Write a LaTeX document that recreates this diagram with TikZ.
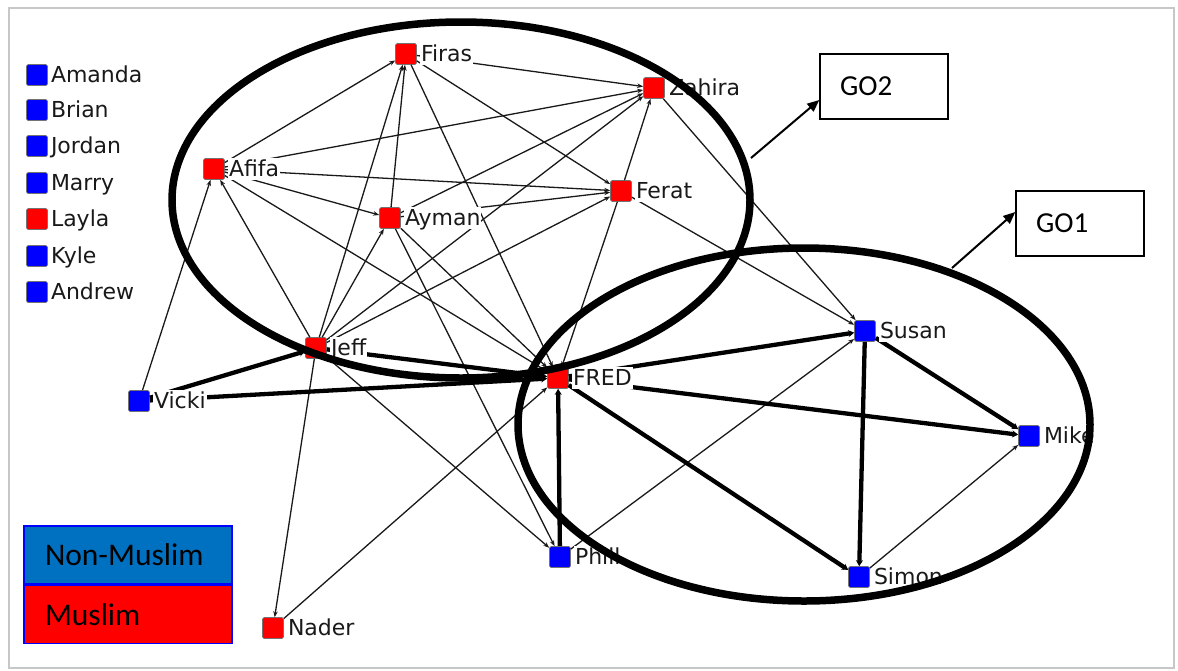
\documentclass[tikz,border=0pt]{standalone}
\usepackage{fontspec}
\setmainfont{DejaVu Sans}
\newfontfamily\gofont{Carlito}
\usepackage{xcolor}
\usetikzlibrary{positioning,arrows.meta}
\definecolor{vred}{HTML}{FF0000}
\definecolor{vblue}{HTML}{0000FF}
\definecolor{nmblue}{HTML}{0070C0}

\begin{document}
\begin{tikzpicture}[x=1pt,y=-1pt]
      \useasboundingbox(0,0) rectangle (1178,670);
      \tikzset{V/.style = {shape=rectangle, rounded corners=1.5pt, draw=black!55, line width=0.6pt, minimum size=21pt, inner sep=0pt}}
      \tikzset{L/.style = {fill=white, inner sep=1pt, text=black!90, font=\fontsize{22}{24}\selectfont, text height=17pt, text depth=3pt}}
      \tikzset{E/.style = {draw, black!90, line width=1.3pt, -{Stealth[length=6pt,width=4.5pt]}}}
      \tikzset{T/.style = {draw, black, line width=4.3pt, -{Stealth[length=6pt,width=7pt]}}}
      \tikzset{G/.style = {draw, line width=7.5pt}}
      \tikzset{gobox/.style = {draw, line width=1.4pt, minimum width=128pt, minimum height=65pt, text width=88pt, inner xsep=20pt, align=left, font=\gofont\fontsize{29}{32}\selectfont}}
      \tikzset{GA/.style = {draw, line width=2pt, -{Triangle[length=12pt,width=10pt]}}}
      \tikzset{legbox/.style = {draw=vblue, line width=1.2pt, minimum width=208pt, minimum height=58pt, text width=166pt, inner xsep=21pt, align=left, font=\gofont\fontsize{31.5}{34}\selectfont}}
      \draw[black!22, line width=1.5pt](9,8) rectangle (1174,668);
      % isolates
      \node[V,fill=vblue](amanda) at (37,75) {};
      \node[V,fill=vblue](brian) at (37,110) {};
      \node[V,fill=vblue](jordan) at (37,146) {};
      \node[V,fill=vblue](marry) at (37,183) {};
      \node[V,fill=vred](layla) at (37,219) {};
      \node[V,fill=vblue](kyle) at (37,256) {};
      \node[V,fill=vblue](andrew) at (37,292) {};
      % network
      \node[V,fill=vred](firas) at (406,54) {};
      \node[V,fill=vred](zahira) at (654,88) {};
      \node[V,fill=vred](afifa) at (214,169) {};
      \node[V,fill=vred](ferat) at (621,191) {};
      \node[V,fill=vred](ayman) at (390,218) {};
      \node[V,fill=vred](jeff) at (316,348) {};
      \node[V,fill=vred](fred) at (558,378) {};
      \node[V,fill=vblue](vicki) at (139,401) {};
      \node[V,fill=vblue](susan) at (865,331) {};
      \node[V,fill=vblue](mike) at (1029,436) {};
      \node[V,fill=vblue](phill) at (560,557) {};
      \node[V,fill=vblue](simon) at (859,577) {};
      \node[V,fill=vred](nader) at (273,628) {};
      \draw[E](vicki) to (afifa);
      \draw[E](jeff) to (afifa);
      \draw[E](afifa) to (firas);
      \draw[E](afifa) to (zahira);
      \draw[E](afifa) to (ferat);
      \draw[E](afifa) to (ayman);
      \draw[E](afifa) to (fred);
      \draw[E](jeff) to (firas);
      \draw[E](ayman) to (firas);
      \draw[E](jeff) to (ayman);
      \draw[E](jeff) to (zahira);
      \draw[E](jeff) to (ferat);
      \draw[E](jeff) to (nader);
      \draw[E](jeff) to (phill);
      \draw[E](ayman) to (zahira);
      \draw[E](ayman) to (ferat);
      \draw[E](ayman) to (fred);
      \draw[E](ayman) to (phill);
      \draw[E](firas) to (zahira);
      \draw[E](firas) to (ferat);
      \draw[E](firas) to (fred);
      \draw[E](ferat) to (zahira);
      \draw[E](ferat) to (fred);
      \draw[E](ferat) to (susan);
      \draw[E](zahira) to (susan);
      \draw[E](nader) to (fred);
      \draw[E](phill) to (susan);
      \draw[E](simon) to (mike);
      \draw[T](vicki) to (jeff);
      \draw[T](vicki) to (fred);
      \draw[T](jeff) to (fred);
      \draw[T](fred) to (susan);
      \draw[T](fred) to (mike);
      \draw[T](fred) to (simon);
      \draw[T](phill) to (fred);
      \draw[T](susan) to (simon);
      \draw[T](susan) to (mike);
      % names
      \node[L,right=2pt of amanda](amandal){Amanda};
      \node[L,right=2pt of brian](brianl){Brian};
      \node[L,right=2pt of jordan](jordanl){Jordan};
      \node[L,right=2pt of marry](marryl){Marry};
      \node[L,right=2pt of layla](laylal){Layla};
      \node[L,right=2pt of kyle](kylel){Kyle};
      \node[L,right=2pt of andrew](andrewl){Andrew};
      \node[L,right=3pt of firas](firasl){Firas};
      \node[L,right=3pt of zahira](zahiral){Zahira};
      \node[L,right=3pt of afifa](afifal){Afifa};
      \node[L,right=3pt of ferat](feratl){Ferat};
      \node[L,right=3pt of ayman](aymanl){Ayman};
      \node[L,right=3pt of jeff](jeffl){Jeff};
      \node[L,right=3pt of fred](fredl){FRED};
      \node[L,right=3pt of vicki](vickil){Vicki};
      \node[L,right=3pt of susan](susanl){Susan};
      \node[L,right=3pt of mike](mikel){Mike};
      \node[L,right=3pt of phill](philll){Phill};
      \node[L,right=3pt of simon](simonl){Simon};
      \node[L,right=3pt of nader](naderl){Nader};
      % groups
      \draw[G](461,200) ellipse [x radius=289pt, y radius=178pt];
      \draw[G](804,424.5) ellipse [x radius=286pt, y radius=176.5pt];
      \node[gobox](go2) at (884,86.5) {GO2};
      \node[gobox](go1) at (1080,223.5) {GO1};
      \coordinate (go2tail) at (751,158);
      \coordinate (go1tail) at (952,268);
      \draw[GA](go2tail) -- ([yshift=-13.5pt]go2.west);
      \draw[GA](go1tail) -- ([yshift=11.5pt]go1.west);
      % key
      \node[legbox,fill=nmblue](nonmuslim) at (128,555) {Non-Muslim};
      \node[legbox,fill=vred,below=0pt of nonmuslim](muslim){Muslim};
    \end{tikzpicture}
\end{document}
